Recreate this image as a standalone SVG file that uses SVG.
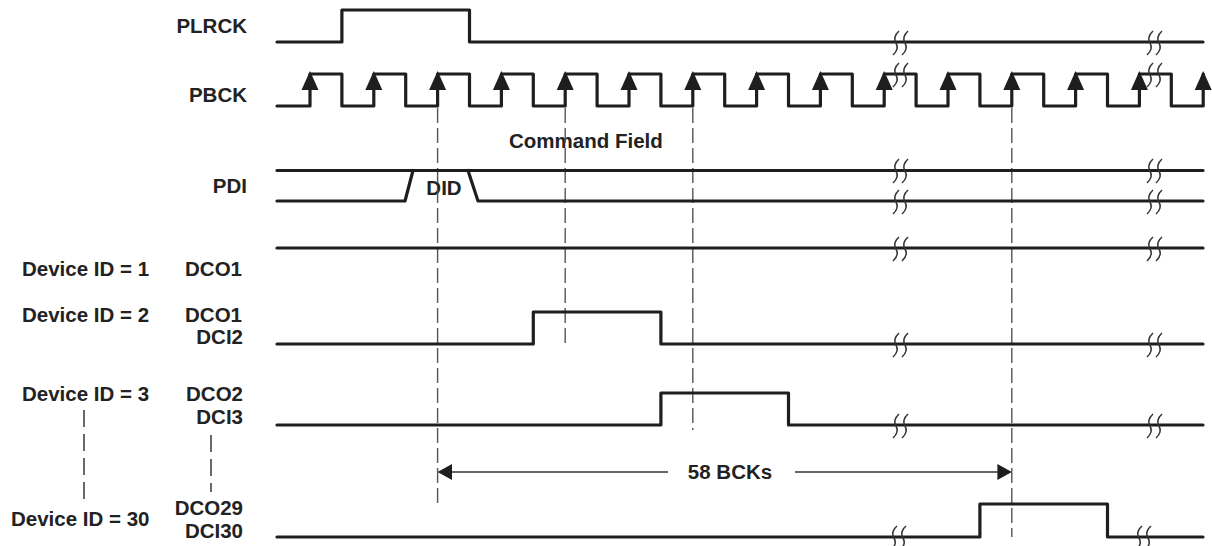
<svg xmlns="http://www.w3.org/2000/svg" xmlns:xlink="http://www.w3.org/1999/xlink" width="1212" height="546" viewBox="0 0 1212 546">
<style>
.sig{fill:none;stroke:#1e1e1e;stroke-width:3.2;stroke-linecap:round;stroke-linejoin:round}
.dash{fill:none;stroke:#555;stroke-width:1.4;stroke-dasharray:15 5}
.ldash{fill:none;stroke:#444;stroke-width:1.6;stroke-dasharray:17 7}
.brk{fill:none;stroke:#333;stroke-width:1.5}
.dim{fill:none;stroke:#333;stroke-width:1.4}
.ah{fill:#1e1e1e}
text{font-family:"Liberation Sans",Arial,sans-serif;font-weight:bold;font-size:20.5px;fill:#222}
.e{text-anchor:end}
.m{text-anchor:middle}
</style>
<defs>
<path id="brk" class="brk" d="M3,-12 Q-3.5,-6 0,0 Q3.5,6 -3,12"/>
<path id="up" class="ah" d="M0,-3 L-8.5,16 L8.5,16 Z"/>
</defs>
<rect width="1212" height="546" fill="#fff"/>

<g id="labels">
<text class="e" x="247" y="33">PLRCK</text>
<text class="e" x="247" y="102">PBCK</text>
<text class="e" x="247" y="193">PDI</text>
<text x="509" y="148">Command Field</text>
<text class="m" x="444" y="195">DID</text>
<text x="22" y="276">Device ID = 1</text>
<text class="e" x="242" y="276">DCO1</text>
<text x="22" y="322">Device ID = 2</text>
<text class="e" x="242" y="322">DCO1</text>
<text class="e" x="243" y="344">DCI2</text>
<text x="22" y="401">Device ID = 3</text>
<text class="e" x="243" y="401">DCO2</text>
<text class="e" x="243" y="424">DCI3</text>
<text x="11" y="526">Device ID = 30</text>
<text class="e" x="243" y="515">DCO29</text>
<text class="e" x="243" y="538">DCI30</text>
<text class="m" x="730" y="479">58 BCKs</text>
</g>

<g id="connectors">
<line class="dash" x1="437.6" y1="108" x2="437.6" y2="508"/>
<line class="dash" x1="565.2" y1="108" x2="565.2" y2="346"/>
<line class="dash" x1="692.8" y1="108" x2="692.8" y2="430"/>
<line class="dash" x1="1011.8" y1="108" x2="1011.8" y2="537"/>
<line class="ldash" x1="84" y1="410" x2="84" y2="502"/>
<line class="ldash" x1="211" y1="435" x2="211" y2="492"/>
<line class="dim" x1="445" y1="472" x2="668" y2="472"/>
<line class="dim" x1="795" y1="472" x2="1004" y2="472"/>
<path class="ah" d="M437.6,472 L452,464 L452,480 Z"/>
<path class="ah" d="M1011.8,472 L997.4,464 L997.4,480 Z"/>
</g>

<g id="PLRCK">
<path class="sig" d="M277,42 H341.9 V10 H469.5 V42 H1203"/>
<use xlink:href="#brk" x="896" y="43"/><use xlink:href="#brk" x="905" y="43"/>
<use xlink:href="#brk" x="1150" y="43"/><use xlink:href="#brk" x="1159" y="43"/>
</g>

<g id="PBCK">
<path class="sig" d="M277,106 H310 V74 H341.9 V106 H373.8 V74 H405.7 V106 H437.6 V74 H469.5 V106 H501.4 V74 H533.3 V106 H565.2 V74 H597.1 V106 H629 V74 H660.9 V106 H692.8 V74 H724.7 V106 H756.6 V74 H788.5 V106 H820.4 V74 H852.3 V106 H884.2 V74 H916.1 V106 H948 V74 H979.9 V106 H1011.8 V74 H1043.7 V106 H1075.6 V74 H1107.5 V106 H1139.4 V74 H1171.3 V106 H1203.2 V74"/>
<use xlink:href="#up" x="310" y="74"/><use xlink:href="#up" x="373.8" y="74"/>
<use xlink:href="#up" x="437.6" y="74"/><use xlink:href="#up" x="501.4" y="74"/>
<use xlink:href="#up" x="565.2" y="74"/><use xlink:href="#up" x="629" y="74"/>
<use xlink:href="#up" x="692.8" y="74"/><use xlink:href="#up" x="756.6" y="74"/>
<use xlink:href="#up" x="820.4" y="74"/><use xlink:href="#up" x="884.2" y="74"/>
<use xlink:href="#up" x="948" y="74"/><use xlink:href="#up" x="1011.8" y="74"/>
<use xlink:href="#up" x="1075.6" y="74"/><use xlink:href="#up" x="1139.4" y="74"/>
<use xlink:href="#up" x="1203.2" y="74"/>
<use xlink:href="#brk" x="896" y="75"/><use xlink:href="#brk" x="905" y="75"/>
<use xlink:href="#brk" x="1150" y="75"/><use xlink:href="#brk" x="1159" y="75"/>
</g>

<g id="PDI">
<path class="sig" d="M277,170.5 H1203"/>
<path class="sig" d="M277,201 H405 L413,170.5"/>
<path class="sig" d="M468,170.5 L478,201 H1203"/>
<use xlink:href="#brk" x="896" y="171"/><use xlink:href="#brk" x="905" y="171"/>
<use xlink:href="#brk" x="1150" y="171"/><use xlink:href="#brk" x="1159" y="171"/>
<use xlink:href="#brk" x="896" y="202"/><use xlink:href="#brk" x="905" y="202"/>
<use xlink:href="#brk" x="1150" y="202"/><use xlink:href="#brk" x="1159" y="202"/>
</g>

<g id="DCO1">
<path class="sig" d="M277,248 H1203"/>
<use xlink:href="#brk" x="896" y="249"/><use xlink:href="#brk" x="905" y="249"/>
<use xlink:href="#brk" x="1150" y="249"/><use xlink:href="#brk" x="1159" y="249"/>
</g>

<g id="DCI2">
<path class="sig" d="M277,344 H533.3 V312 H660.9 V344 H1203"/>
<use xlink:href="#brk" x="896" y="345"/><use xlink:href="#brk" x="905" y="345"/>
<use xlink:href="#brk" x="1150" y="345"/><use xlink:href="#brk" x="1159" y="345"/>
</g>

<g id="DCI3">
<path class="sig" d="M277,425 H660.9 V393 H788.5 V425 H1203"/>
<use xlink:href="#brk" x="896" y="426"/><use xlink:href="#brk" x="905" y="426"/>
<use xlink:href="#brk" x="1150" y="426"/><use xlink:href="#brk" x="1159" y="426"/>
</g>

<g id="DCI30">
<path class="sig" d="M277,537 H979.9 V504 H1107.5 V537 H1203"/>
<use xlink:href="#brk" x="894" y="538"/><use xlink:href="#brk" x="903" y="538"/>
<use xlink:href="#brk" x="1139" y="538"/><use xlink:href="#brk" x="1148" y="538"/>
</g>
</svg>
